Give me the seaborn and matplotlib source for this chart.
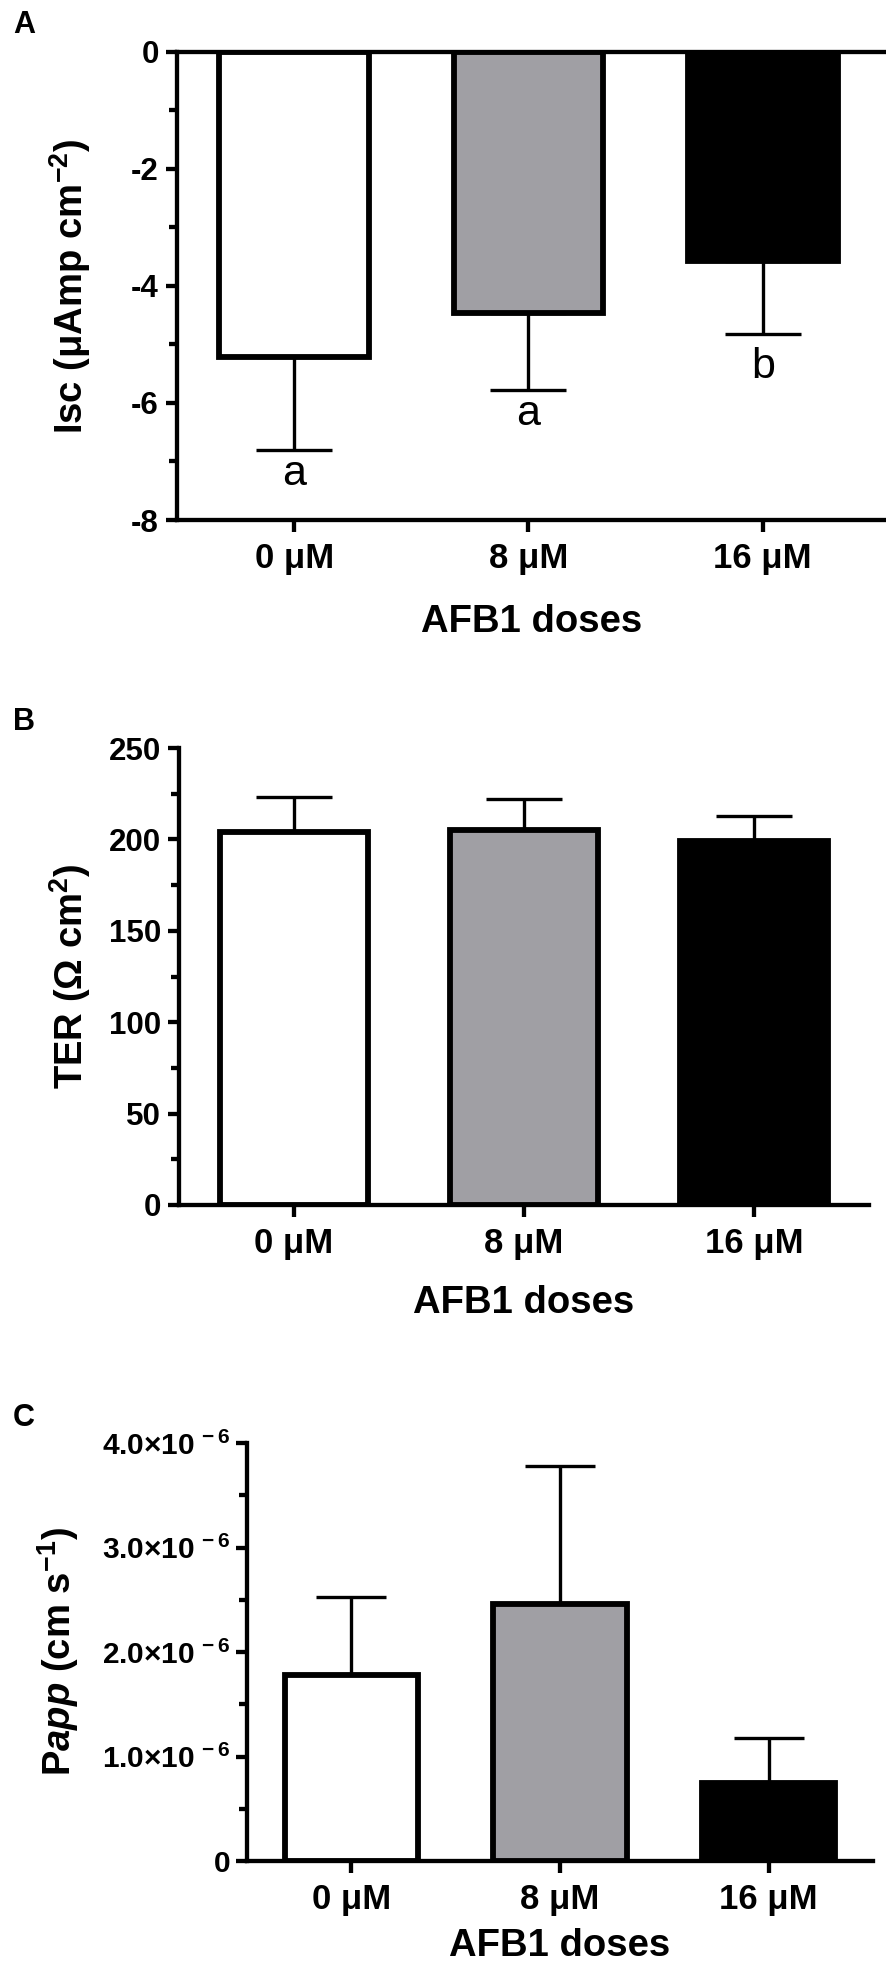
import numpy as np
import pandas as pd
import matplotlib
matplotlib.use("Agg")
import matplotlib.pyplot as plt
import seaborn as sns
from matplotlib.ticker import MultipleLocator, FuncFormatter

# ---------------- data ----------------
doses = ["0 μM", "8 μM", "16 μM"]
bar_colors = ["#FFFFFF", "#A09FA4", "#000000"]

isc_mean = [-5.22, -4.47, -3.58]
isc_err = [1.59, 1.30, 1.24]
isc_letters = ["a", "a", "b"]

ter_mean = [204, 205, 199]
ter_err = [19, 17, 14]

papp_mean = [1.78e-6, 2.46e-6, 0.75e-6]
papp_err = [0.75e-6, 1.32e-6, 0.43e-6]

# ---------------- style ----------------
sns.set_style("ticks")
plt.rcParams["font.family"] = ["Liberation Sans", "DejaVu Sans"]
plt.rcParams["font.weight"] = "bold"
plt.rcParams["axes.unicode_minus"] = False
plt.rcParams["mathtext.fontset"] = "custom"
plt.rcParams["mathtext.rm"] = "Liberation Sans:bold"
plt.rcParams["mathtext.bf"] = "Liberation Sans:bold"
plt.rcParams["mathtext.it"] = "Liberation Sans:italic:bold"
plt.rcParams["mathtext.default"] = "rm"
for key in ["text.color", "axes.labelcolor", "xtick.color", "ytick.color", "axes.edgecolor"]:
    plt.rcParams[key] = "black"

W, H = 887, 1967
fig = plt.figure(figsize=(W / 100, H / 100), dpi=100)


def add_axes_px(left, right, top, bottom):
    return fig.add_axes([left / W, 1 - bottom / H, (right - left) / W, (bottom - top) / H])


AX_LW = 3.1
BAR_LW = 4.2
ERR_LW = 2.4
YTICK_FS = 22.5
XTICK_FS = 25
LABEL_FS = 27.5


def style_axes(ax):
    for s in ["left", "bottom", "top", "right"]:
        ax.spines[s].set_linewidth(AX_LW)
        ax.spines[s].set_color("black")
    ax.spines["right"].set_visible(False)
    ax.spines["top"].set_visible(False)
    ax.tick_params(axis="y", which="major", length=8, width=AX_LW, direction="out",
                   labelsize=YTICK_FS, pad=5, color="black", labelcolor="black")
    ax.tick_params(axis="y", which="minor", length=5.5, width=AX_LW, direction="out", color="black")
    ax.tick_params(axis="x", which="major", length=8.5, width=AX_LW, direction="out",
                   labelsize=XTICK_FS, pad=7, color="black", labelcolor="black")
    ax.tick_params(axis="x", which="minor", length=0)
    for lab in ax.get_yticklabels() + ax.get_xticklabels():
        lab.set_fontweight("bold")
    ax.set_facecolor("white")


def draw_bars(ax, values, errs, upward, capsize):
    df = pd.DataFrame({"dose": doses, "value": values})
    sns.barplot(data=df, x="dose", y="value", hue="dose", order=doses, hue_order=doses,
                palette=bar_colors, saturation=1, width=0.64, edgecolor="black",
                linewidth=BAR_LW, errorbar=None, legend=False, ax=ax, zorder=2)
    zeros = [0] * len(errs)
    yerr = [zeros, errs] if upward else [errs, zeros]
    ax.errorbar(range(len(doses)), values, yerr=yerr, fmt="none", ecolor="black",
                elinewidth=ERR_LW, capsize=capsize, capthick=ERR_LW, zorder=1)


# ---------------- Panel A ----------------
axA = add_axes_px(177, 887, 52, 520)
draw_bars(axA, isc_mean, isc_err, upward=False, capsize=27.5)
axA.set_ylim(-8, 0)
axA.set_xlim(-0.5, 2.53)
axA.yaxis.set_major_locator(MultipleLocator(2))
axA.yaxis.set_minor_locator(MultipleLocator(1))
style_axes(axA)
axA.spines["top"].set_visible(True)
for i, (m, e, let) in enumerate(zip(isc_mean, isc_err, isc_letters)):
    drop = 44 if let in "bdfhklt" else 35
    axA.annotate(let, xy=(i, m - e), xytext=(0, -drop), textcoords="offset pixels",
                 ha="center", va="baseline", fontsize=31, fontweight="normal", color="black")
axA.set_ylabel("Isc (μAmp cm$^{-2}$)", fontsize=LABEL_FS, fontweight="bold")
axA.set_xlabel("AFB1 doses", fontsize=LABEL_FS, fontweight="bold")

# ---------------- Panel B ----------------
axB = add_axes_px(179, 869, 748, 1205)
draw_bars(axB, ter_mean, ter_err, upward=True, capsize=27.5)
axB.set_ylim(0, 250)
axB.set_xlim(-0.5, 2.5)
axB.yaxis.set_major_locator(MultipleLocator(50))
axB.yaxis.set_minor_locator(MultipleLocator(25))
style_axes(axB)
axB.set_ylabel("TER (Ω cm$^{2}$)", fontsize=LABEL_FS, fontweight="bold")
axB.set_xlabel("AFB1 doses", fontsize=LABEL_FS, fontweight="bold")

# ---------------- Panel C ----------------
axC = add_axes_px(247, 873, 1443, 1861)
draw_bars(axC, papp_mean, papp_err, upward=True, capsize=25)
axC.set_ylim(0, 4e-6)
axC.set_xlim(-0.5, 2.5)
axC.yaxis.set_major_locator(MultipleLocator(1e-6))
axC.yaxis.set_minor_locator(MultipleLocator(0.5e-6))


def papp_fmt(v, pos):
    if abs(v) < 1e-12:
        return "0"
    return f"{v / 1e-6:.1f}×10$^{{\\,-6}}$"


axC.yaxis.set_major_formatter(FuncFormatter(papp_fmt))
axC.yaxis.get_offset_text().set_visible(False)
style_axes(axC)
axC.tick_params(axis="y", which="major", labelsize=21.5, pad=4)
axC.set_ylabel("P$\\mathit{app}$ (cm s$^{-1}$)", fontsize=LABEL_FS, fontweight="bold")
axC.set_xlabel("AFB1 doses", fontsize=LABEL_FS, fontweight="bold")


def place_labels(ax, left, right, top, bottom, ylab_x, xlab_y):
    ax.yaxis.label.set(ha="center", va="center", rotation_mode="anchor")
    ax.yaxis.set_label_coords((ylab_x - left) / (right - left), 0.5)
    ax.xaxis.label.set(ha="center", va="center")
    ax.xaxis.set_label_coords(0.5, -(xlab_y - bottom) / (bottom - top))


place_labels(axA, 177, 887, 52, 520, 70, 622)
place_labels(axB, 179, 869, 748, 1205, 70, 1303)
place_labels(axC, 247, 873, 1443, 1861, 58, 1946)

# panel letters
for letter, ypx in [("A", 25), ("B", 722), ("C", 1418)]:
    fig.text(13 / W, 1 - ypx / H, letter, fontsize=22, fontweight="bold",
             ha="left", va="center", color="black")

fig.savefig("out.png", dpi=100, facecolor="white")
